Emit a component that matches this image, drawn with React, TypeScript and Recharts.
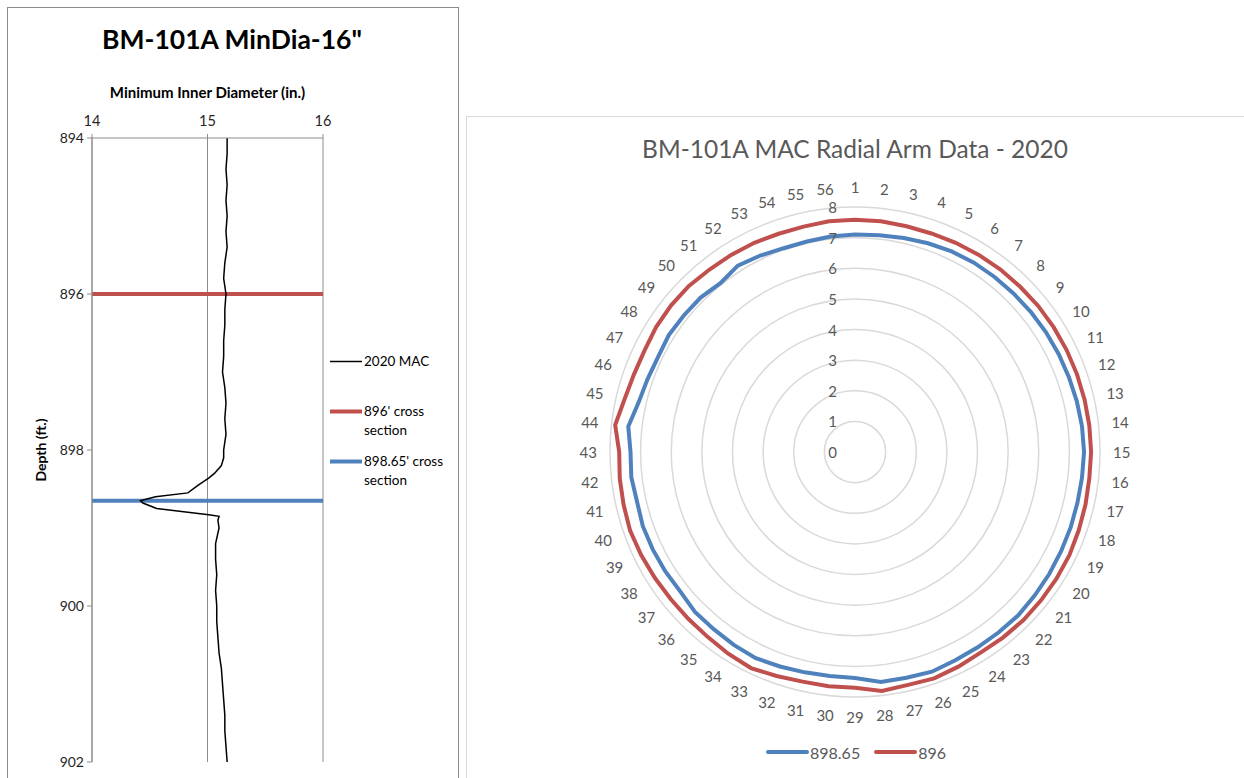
import React from "react";
import {
  CartesianGrid,
  Legend,
  Line,
  LineChart,
  PolarAngleAxis,
  PolarGrid,
  PolarRadiusAxis,
  Radar,
  RadarChart,
  XAxis,
  YAxis,
} from "recharts";

const FONT = "Lato, 'Open Sans', sans-serif";
const RED = "#C0504D";
const BLUE = "#4F81BD";
const AXIS_GRAY = "#8c8c8c";
const TEXT_GRAY = "#595959";

// ---- left chart: minimum inner diameter vs depth ----
const macDepth = [
  894.0, 894.2, 894.4, 894.6, 894.8, 895.0, 895.2, 895.4, 895.6, 895.8, 896.0, 896.2, 896.4, 896.6, 896.8,
  897.0, 897.2, 897.4, 897.6, 897.8, 897.9, 898.0, 898.1, 898.2, 898.3, 898.36, 898.45, 898.55, 898.6,
  898.65, 898.68, 898.75, 898.83, 898.85, 898.9, 899.0, 899.2, 899.4, 899.6, 899.8, 900.0, 900.2, 900.4,
  900.6, 900.8, 901.0, 901.2, 901.4, 901.6, 901.8, 902.0,
];
const macDia = [
  15.17, 15.17, 15.16, 15.17, 15.16, 15.17, 15.16, 15.17, 15.15, 15.14, 15.16, 15.15, 15.15, 15.14, 15.14,
  15.13, 15.15, 15.16, 15.15, 15.16, 15.15, 15.14, 15.14, 15.12, 15.06, 15.01, 14.92, 14.83, 14.55,
  14.42, 14.44, 14.56, 15.01, 15.1, 15.09, 15.1, 15.07, 15.07, 15.08, 15.07, 15.08, 15.08, 15.09,
  15.1, 15.12, 15.13, 15.14, 15.15, 15.15, 15.16, 15.17,
];
const sectionDepths = [896, 898.65];
const diaDomain = [14, 16];
const diaTicks = [14, 15, 16];
const depthTicks = [894, 896, 898, 900, 902];
const leftSeriesNames = ["2020 MAC", "896' cross section", "898.65' cross section"];

// ---- right chart: radial arm data ----
const armNumbers = Array.from({ length: 56 }, (_, i) => String(i + 1));
const arms89865 = [
  7.1, 7.12, 7.17, 7.22, 7.27, 7.3, 7.31, 7.32, 7.34, 7.36, 7.38, 7.4, 7.43, 7.46, 7.48, 7.46, 7.45, 7.46,
  7.47, 7.49, 7.51, 7.54, 7.53, 7.53, 7.55, 7.6, 7.56, 7.56, 7.38, 7.36, 7.38, 7.42, 7.47, 7.44, 7.4, 7.39,
  7.3, 7.32, 7.33, 7.34, 7.3, 7.35, 7.33, 7.45, 7.25, 7.18, 7.14, 7.18, 7.15, 7.13, 7.05, 7.19, 7.12, 7.05,
  7.05, 7.08,
];
const arms896 = [
  7.58, 7.58, 7.56, 7.56, 7.58, 7.6, 7.62, 7.63, 7.65, 7.66, 7.67, 7.68, 7.69, 7.7, 7.71, 7.7, 7.72, 7.74,
  7.77, 7.77, 7.77, 7.77, 7.75, 7.73, 7.78, 7.83, 7.8, 7.85, 7.7, 7.7, 7.69, 7.75, 7.83, 7.78, 7.72, 7.7,
  7.7, 7.72, 7.75, 7.78, 7.75, 7.73, 7.7, 7.88, 7.72, 7.65, 7.63, 7.67, 7.68, 7.67, 7.62, 7.6, 7.58, 7.55,
  7.55, 7.58,
];
const radiusTicks = [0, 1, 2, 3, 4, 5, 6, 7, 8];
const radarSeries = [
  { key: "a", name: "898.65", color: BLUE },
  { key: "b", name: "896", color: RED },
];

const macData = macDepth.map((depth, i) => ({ depth, dia: macDia[i] }));
const sectionData = sectionDepths.map((depth) => diaDomain.map((dia) => ({ depth, dia })));
const radarData = armNumbers.map((arm, i) => ({ arm, a: arms89865[i], b: arms896[i] }));

function SideLegend({ payload }: any) {
  const items = [...(payload || [])].sort(
    (p: any, q: any) => leftSeriesNames.indexOf(p.value) - leftSeriesNames.indexOf(q.value)
  );
  return (
    <div style={{ fontFamily: FONT, fontSize: 13.5, color: "#000" }}>
      {items.map((item: any) => (
        <div key={item.value} style={{ display: "flex", alignItems: "flex-start", height: 50 }}>
          <svg width={34} height={19} style={{ flex: "none" }}>
            <line
              x1={0}
              x2={32}
              y1={9.5}
              y2={9.5}
              stroke={item.color}
              strokeWidth={item.value === "2020 MAC" ? 1.5 : 4}
            />
          </svg>
          <span style={{ lineHeight: "19px", width: 88 }}>{item.value}</span>
        </div>
      ))}
    </div>
  );
}

function RadarLegend() {
  return (
    <div style={{ display: "flex", fontFamily: FONT, fontSize: 16, color: TEXT_GRAY }}>
      {radarSeries.map((s) => (
        <div key={s.name} style={{ display: "flex", alignItems: "center", marginRight: 14 }}>
          <svg width={44} height={20}>
            <line x1={2} x2={41} y1={10} y2={10} stroke={s.color} strokeWidth={4} strokeLinecap="round" />
          </svg>
          <span>{s.name}</span>
        </div>
      ))}
    </div>
  );
}

function RadiusTick({ x, y, payload }: any) {
  return (
    <text x={x - 18} y={y} textAnchor="end" dominantBaseline="central" fill={TEXT_GRAY} fontSize={15} fontFamily={FONT}>
      {payload.value}
    </text>
  );
}

function ArmTick({ x, y, payload }: any) {
  const a = (payload.coordinate * Math.PI) / 180;
  const label = String(payload.value);
  const halfW = label.length * 4.4;
  return (
    <text
      x={x + Math.cos(a) * halfW}
      y={y - Math.sin(a) * 7}
      textAnchor="middle"
      dominantBaseline="central"
      fill={TEXT_GRAY}
      fontSize={15}
      fontFamily={FONT}
    >
      {label}
    </text>
  );
}

export default function App() {
  return (
    <div style={{ position: "absolute", left: 0, top: 0, width: 1244, height: 778, overflow: "hidden", background: "#fff", fontFamily: FONT }}>
      {/* left panel */}
      <div style={{ position: "absolute", left: 7, top: 7, width: 450, height: 820, border: "1px solid #8c8c8c" }} />
      <div style={{ position: "absolute", left: 7, top: 23, width: 450, textAlign: "center", fontWeight: 700, fontSize: 26.5, color: "#000" }}>
        BM-101A MinDia-16"
      </div>
      <div style={{ position: "absolute", left: 92, top: 83, width: 231, textAlign: "center", fontWeight: 700, fontSize: 15, color: "#000" }}>
        Minimum Inner Diameter (in.)
      </div>
      <div
        style={{
          position: "absolute",
          left: 40,
          top: 450,
          transform: "translate(-50%, -50%) rotate(-90deg)",
          whiteSpace: "nowrap",
          fontWeight: 700,
          fontSize: 14,
          color: "#000",
        }}
      >
        Depth (ft.)
      </div>
      <div style={{ position: "absolute", left: 0, top: 0 }}>
        <LineChart width={460} height={778} layout="vertical" margin={{ top: 108, right: 137, bottom: 16, left: 0 }}>
          <CartesianGrid horizontal={false} stroke={AXIS_GRAY} strokeWidth={1} />
          <XAxis
            type="number"
            orientation="top"
            domain={diaDomain}
            ticks={diaTicks}
            height={30}
            stroke={AXIS_GRAY}
            tickSize={4}
            tickMargin={8}
            tick={{ fill: "#262626", fontSize: 14.5, fontFamily: FONT }}
          />
          <YAxis
            type="number"
            dataKey="depth"
            domain={[894, 902]}
            ticks={depthTicks}
            width={92}
            stroke={AXIS_GRAY}
            tickSize={5}
            tickMargin={3}
            tick={{ fill: "#262626", fontSize: 14, fontFamily: FONT }}
          />
          <Line
            data={sectionData[0]}
            dataKey="dia"
            name={leftSeriesNames[1]}
            stroke={RED}
            strokeWidth={4}
            dot={false}
            isAnimationActive={false}
          />
          <Line
            data={sectionData[1]}
            dataKey="dia"
            name={leftSeriesNames[2]}
            stroke={BLUE}
            strokeWidth={4}
            dot={false}
            isAnimationActive={false}
          />
          <Line
            data={macData}
            dataKey="dia"
            name={leftSeriesNames[0]}
            stroke="#000"
            strokeWidth={1.5}
            dot={false}
            isAnimationActive={false}
          />
          <Legend
            layout="horizontal"
            align="center"
            verticalAlign="middle"
            content={SideLegend}
            wrapperStyle={{ left: 330, top: 352, width: 125 }}
          />
        </LineChart>
      </div>

      {/* right panel */}
      <div style={{ position: "absolute", left: 466, top: 116, width: 800, height: 800, border: "1px solid #d9d9d9" }} />
      <div
        style={{
          position: "absolute",
          left: 466,
          top: 134,
          width: 778,
          textAlign: "center",
          fontSize: 24.5,
          color: TEXT_GRAY,
        }}
      >
        BM-101A MAC Radial Arm Data - 2020
      </div>
      <div style={{ position: "absolute", left: 466, top: 116 }}>
        <RadarChart
          width={778}
          height={662}
          data={radarData}
          cx={389}
          cy={336}
          outerRadius={245}
          margin={{ top: 0, right: 0, bottom: 0, left: 0 }}
        >
          <PolarGrid gridType="circle" radialLines={false} stroke="#d9d9d9" strokeWidth={1.5} />
          <PolarAngleAxis dataKey="arm" tickLine={false} axisLine={false} tickSize={13} tick={ArmTick} />
          <PolarRadiusAxis angle={90} domain={[0, 8]} ticks={radiusTicks as any} tickCount={9} axisLine={false} tick={RadiusTick} />
          {radarSeries.map((s) => (
            <Radar
              key={s.key}
              dataKey={s.key}
              name={s.name}
              stroke={s.color}
              strokeWidth={4}
              fill="none"
              fillOpacity={0}
              dot={false}
              isAnimationActive={false}
            />
          ))}
          <Legend
            layout="horizontal"
            align="center"
            verticalAlign="middle"
            content={RadarLegend}
            wrapperStyle={{ left: 300, top: 626, width: 260 }}
          />
        </RadarChart>
      </div>
    </div>
  );
}
